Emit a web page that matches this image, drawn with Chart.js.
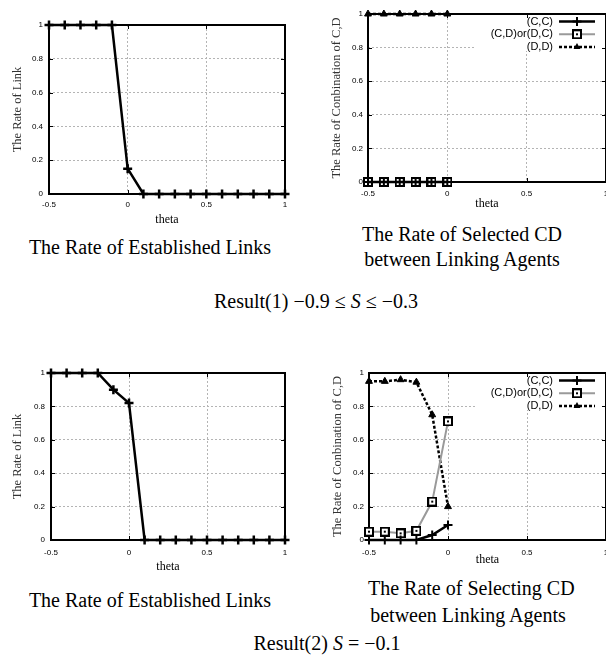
<!DOCTYPE html>
<html>
<head>
<meta charset="utf-8">
<script src="https://cdn.jsdelivr.net/npm/chart.js"></script>
<style>
  body { margin: 0; width: 606px; height: 657px; overflow: hidden; background: #fff; position: relative; font-family: "Liberation Serif", serif; }
  canvas { position: absolute; }
  .cap { position: absolute; font-size: 20px; line-height: 25px; text-align: center; color: #000; white-space: nowrap; }
</style>
</head>
<body>
<canvas id="linkTop" width="300" height="232" style="left:0;top:0"></canvas>
<canvas id="cdTop" width="330" height="215" style="left:300px;top:0"></canvas>
<canvas id="linkBottom" width="300" height="220" style="left:0;top:360px"></canvas>
<canvas id="cdBottom" width="330" height="215" style="left:300px;top:360px"></canvas>

<div class="cap" style="left:0;width:300px;top:235px">The Rate of Established Links</div>
<div class="cap" style="left:362px;width:200px;top:222px">The Rate of Selected CD<br>between Linking Agents</div>
<div class="cap" style="left:214px;width:200px;top:289px">Result(1) &minus;0.9 &le; <i>S</i> &le; &minus;0.3</div>

<div class="cap" style="left:0;width:300px;top:588px">The Rate of Established Links</div>
<div class="cap" style="left:368px;width:200px;top:575px;line-height:27px">The Rate of Selecting CD<br>between Linking Agents</div>
<div class="cap" style="left:227px;width:200px;top:631px">Result(2) <i>S</i> = &minus;0.1</div>

<script>
// theta values and rates
const thetaAll = [-0.5, -0.4, -0.3, -0.2, -0.1, 0, 0.1, 0.2, 0.3, 0.4, 0.5, 0.6, 0.7, 0.8, 0.9, 1.0];
const linkRate1 = [1, 1, 1, 1, 1, 0.15, 0, 0, 0, 0, 0, 0, 0, 0, 0, 0];
const linkRate2 = [1, 1, 1, 1, 0.9, 0.82, 0, 0, 0, 0, 0, 0, 0, 0, 0, 0];

const thetaCD = [-0.5, -0.4, -0.3, -0.2, -0.1, 0];
const seriesNames = ['(C,C)', '(C,D)or(D,C)', '(D,D)'];
const cc1 = [0, 0, 0, 0, 0, 0];
const cd1 = [0, 0, 0, 0, 0, 0];
const dd1 = [1, 1, 1, 1, 1, 1];
const cc2 = [0, 0, 0, 0, 0.03, 0.09];
const cd2 = [0.05, 0.05, 0.04, 0.055, 0.23, 0.71];
const dd2 = [0.95, 0.95, 0.96, 0.945, 0.75, 0.2];

const xTicks = [-0.5, 0, 0.5, 1];
const yTicks = [0, 0.2, 0.4, 0.6, 0.8, 1];

function pts(xs, ys) {
    return xs.map(function (x, i) { return { x: x, y: ys[i] }; });
}

function fmt(v) {
    return String(Math.round(v * 10) / 10);
}

// open square with a dot in the middle
function squareMarker(size) {
    let c = document.createElement('canvas');
    c.width = size;
    c.height = size;
    let g = c.getContext('2d');
    g.fillStyle = '#000';
    g.fillRect(0, 0, size, size);
    g.fillStyle = '#fff';
    g.fillRect(2, 2, size - 4, size - 4);
    g.fillStyle = '#000';
    g.fillRect(size / 2 - 1, size / 2 - 1, 2, 2);
    return c;
}
const squareImg = squareMarker(10);

function drawMarker(ctx, ds, x, y) {
    ctx.save();
    ctx.setLineDash([]);
    if (ds.pointStyle === 'cross') {
        let r = ds.pointRadius;
        ctx.strokeStyle = '#000';
        ctx.lineWidth = ds.pointBorderWidth;
        ctx.beginPath();
        ctx.moveTo(x - r, y); ctx.lineTo(x + r, y);
        ctx.moveTo(x, y - r); ctx.lineTo(x, y + r);
        ctx.stroke();
    } else if (ds.pointStyle === 'triangle') {
        let r = ds.pointRadius;
        ctx.fillStyle = '#000';
        ctx.beginPath();
        ctx.moveTo(x, y - r);
        ctx.lineTo(x + r * 0.866, y + r * 0.5);
        ctx.lineTo(x - r * 0.866, y + r * 0.5);
        ctx.closePath();
        ctx.fill();
    } else {
        ctx.drawImage(ds.pointStyle, x - ds.pointStyle.width / 2, y - ds.pointStyle.height / 2);
    }
    ctx.restore();
}

// gnuplot style frame, mirrored ticks and key
const gnuFrame = {
    id: 'gnuFrame',
    beforeDatasetsDraw(chart, args, opts) {
        const a = chart.chartArea;
        const ctx = chart.ctx;
        ctx.save();
        if (opts.legend) {
            ctx.fillStyle = '#fff';
            ctx.fillRect(a.right - 131, a.top + 1, 130, 36);
        }
        ctx.strokeStyle = '#000';
        ctx.lineWidth = 1;
        ctx.beginPath();
        chart.scales.x.ticks.forEach(function (t) {
            let px = Math.round(chart.scales.x.getPixelForValue(t.value)) + 0.5;
            ctx.moveTo(px, a.bottom); ctx.lineTo(px, a.bottom - 4);
            ctx.moveTo(px, a.top); ctx.lineTo(px, a.top + 4);
        });
        chart.scales.y.ticks.forEach(function (t) {
            let py = Math.round(chart.scales.y.getPixelForValue(t.value)) + 0.5;
            ctx.moveTo(a.left, py); ctx.lineTo(a.left + 4, py);
            ctx.moveTo(a.right, py); ctx.lineTo(a.right - 4, py);
        });
        ctx.stroke();
        ctx.lineWidth = 2;
        ctx.strokeRect(a.left, a.top, a.right - a.left, a.bottom - a.top);
        ctx.restore();
    },
    afterDatasetsDraw(chart, args, opts) {
        if (!opts.legend) return;
        const a = chart.chartArea;
        const ctx = chart.ctx;
        ctx.save();
        chart.data.datasets.forEach(function (ds, i) {
            let y = a.top + 7.5 + i * 12.8;
            ctx.fillStyle = '#000';
            ctx.font = '11px "Liberation Sans"';
            ctx.textAlign = 'right';
            ctx.textBaseline = 'middle';
            ctx.fillText(ds.label, a.right - 53, y);
            ctx.strokeStyle = ds.borderColor;
            ctx.lineWidth = ds.borderWidth;
            ctx.setLineDash(ds.borderDash || []);
            ctx.beginPath();
            ctx.moveTo(a.right - 47, y);
            ctx.lineTo(a.right - 11, y);
            ctx.stroke();
            drawMarker(ctx, ds, a.right - 29, y);
        });
        ctx.restore();
    }
};
Chart.register(gnuFrame);

function linkSets(values) {
    return [{
        label: 'link',
        data: pts(thetaAll, values),
        borderColor: '#000',
        borderWidth: 2.5,
        pointStyle: 'cross',
        pointRadius: 4.5,
        pointBorderWidth: 2.5,
        pointBorderColor: '#000',
        clip: false
    }];
}

function cdSets(cc, cd, dd) {
    return [{
        label: seriesNames[0],
        data: pts(thetaCD, cc),
        borderColor: '#000',
        borderWidth: 2.5,
        pointStyle: 'cross',
        pointRadius: 4.5,
        pointBorderWidth: 2,
        pointBorderColor: '#000',
        clip: false
    }, {
        label: seriesNames[1],
        data: pts(thetaCD, cd),
        borderColor: '#9a9a9a',
        borderWidth: 2,
        pointStyle: squareImg,
        pointRadius: 5,
        clip: false
    }, {
        label: seriesNames[2],
        data: pts(thetaCD, dd),
        borderColor: '#000',
        borderWidth: 2.5,
        borderDash: [3, 2],
        pointStyle: 'triangle',
        pointRadius: 4,
        pointBackgroundColor: '#000',
        pointBorderColor: '#000',
        pointBorderWidth: 1,
        clip: false
    }];
}

function makeChart(id, datasets, yTitle, g) {
    return new Chart(document.getElementById(id), {
        type: 'line',
        data: { datasets: datasets },
        options: {
            responsive: false,
            animation: false,
            events: [],
            layout: { padding: { left: 0, top: g.padTop, right: g.padRight, bottom: 0 } },
            elements: { line: { tension: 0 } },
            plugins: {
                legend: { display: false },
                tooltip: { enabled: false },
                gnuFrame: { legend: g.legend }
            },
            scales: {
                x: {
                    type: 'linear',
                    min: -0.5,
                    max: 1,
                    afterBuildTicks: function (s) { s.ticks = xTicks.map(function (v) { return { value: v }; }); },
                    afterFit: function (s) { s.height = g.xHeight; },
                    grid: { color: '#b4b4b4', lineWidth: 1, drawTicks: false },
                    border: { display: false, dash: [2, 2] },
                    ticks: {
                        padding: g.xTickPad, color: '#000', autoSkip: false, maxRotation: 0,
                        font: { family: 'Liberation Sans', size: 8 },
                        callback: fmt
                    },
                    title: {
                        display: true, text: 'theta', color: '#000',
                        font: { family: 'Liberation Serif', size: 12 },
                        padding: { top: 0, bottom: g.xTitlePad }
                    }
                },
                y: {
                    min: 0,
                    max: 1,
                    afterBuildTicks: function (s) { s.ticks = yTicks.map(function (v) { return { value: v }; }); },
                    afterFit: function (s) { s.width = g.yWidth; },
                    grid: { color: '#b4b4b4', lineWidth: 1, drawTicks: false },
                    border: { display: false, dash: [2, 2] },
                    ticks: {
                        padding: g.yTickPad, color: '#000', autoSkip: false,
                        font: { family: 'Liberation Sans', size: 8 },
                        callback: fmt
                    },
                    title: {
                        display: true, text: yTitle, color: '#333',
                        font: { family: 'Liberation Serif', size: 12.5 },
                        padding: { top: g.yTitlePad, bottom: 0 }
                    }
                }
            }
        }
    });
}

makeChart('linkTop', linkSets(linkRate1), 'The Rate of Link',
    { padTop: 25, padRight: 15, yWidth: 49, xHeight: 38, xTickPad: 6, xTitlePad: 5, yTickPad: 6, yTitlePad: 10, legend: false });
makeChart('cdTop', cdSets(cc1, cd1, dd1), 'The Rate of Conbination of C,D',
    { padTop: 14, padRight: 24, yWidth: 68, xHeight: 33, xTickPad: 7, xTitlePad: 4, yTickPad: 5, yTitlePad: 29, legend: true });
makeChart('linkBottom', linkSets(linkRate2), 'The Rate of Link',
    { padTop: 13, padRight: 15, yWidth: 51, xHeight: 40, xTickPad: 8, xTitlePad: 6, yTickPad: 6, yTitlePad: 10, legend: false });
makeChart('cdBottom', cdSets(cc2, cd2, dd2), 'The Rate of Conbination of C,D',
    { padTop: 13, padRight: 24, yWidth: 69, xHeight: 35, xTickPad: 8, xTitlePad: 8, yTickPad: 5, yTitlePad: 30, legend: true });
</script>
</body>
</html>
